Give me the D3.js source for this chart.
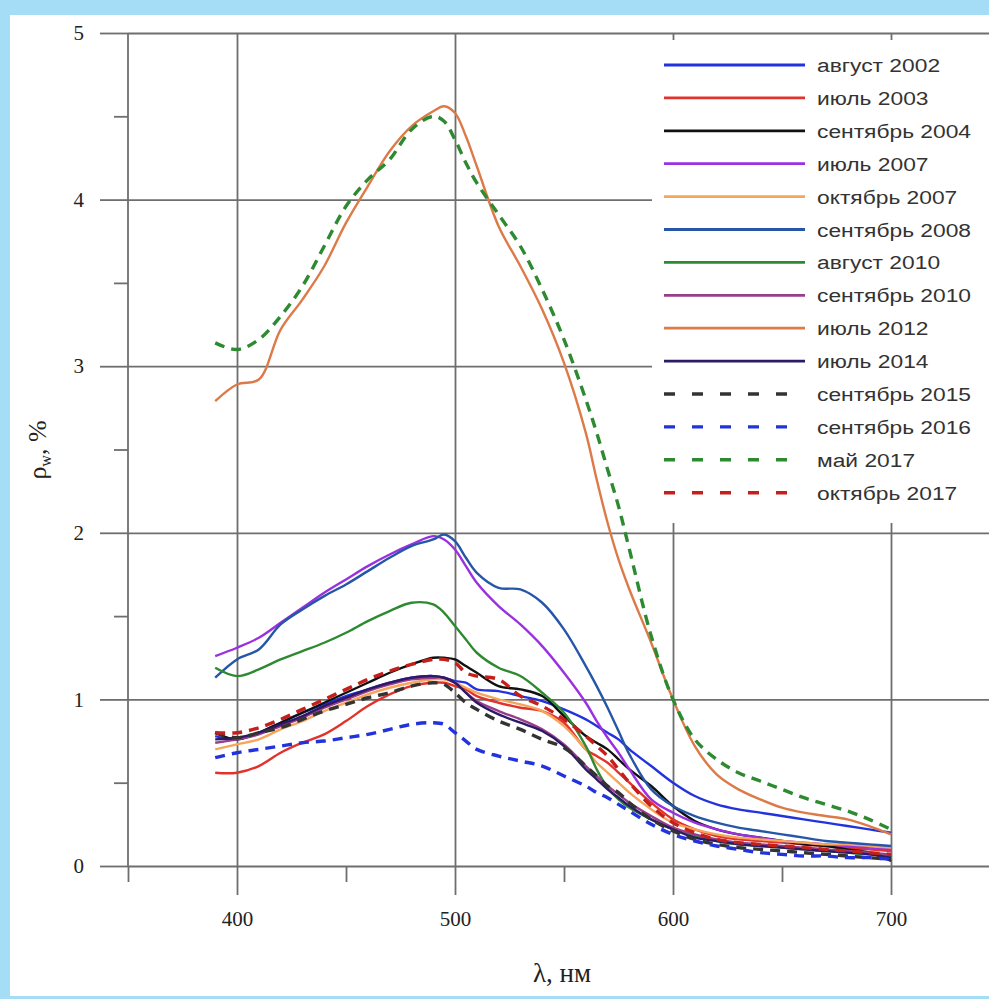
<!DOCTYPE html>
<html>
<head>
<meta charset="utf-8">
<script src="https://cdn.jsdelivr.net/npm/d3@7"></script>
<style>
  body { margin: 0; background: #a5dcf6; }
  svg { display: block; }
</style>
</head>
<body>
<svg id="chart" width="989" height="999"></svg>
<script>
// wavelengths, nm
let wavelengths = [390, 400, 410, 420, 430, 440, 450, 460, 470, 480, 490, 495, 500, 505, 510,
  520, 530, 540, 550, 560, 565, 570, 575, 580, 590, 600, 610, 620, 630, 640, 650, 660, 670, 680, 690, 700];

// rho_w, %
let aug2002 = [0.78, 0.76, 0.80, 0.86, 0.92, 0.97, 1.02, 1.06, 1.10, 1.13, 1.14, 1.13, 1.11, 1.10, 1.06,
  1.05, 1.02, 0.99, 0.94, 0.88, 0.84, 0.80, 0.76, 0.70, 0.60, 0.50, 0.42, 0.37, 0.34, 0.32, 0.30, 0.28, 0.26, 0.24, 0.22, 0.20];
let jul2003 = [0.56, 0.56, 0.60, 0.68, 0.74, 0.79, 0.87, 0.96, 1.03, 1.08, 1.10, 1.10, 1.08, 1.06, 1.02,
  0.98, 0.95, 0.93, 0.86, 0.70, 0.66, 0.62, 0.56, 0.50, 0.38, 0.28, 0.22, 0.18, 0.16, 0.15, 0.14, 0.13, 0.12, 0.11, 0.10, 0.09];
let sep2004 = [0.80, 0.76, 0.80, 0.86, 0.92, 0.98, 1.04, 1.10, 1.16, 1.21, 1.25, 1.25, 1.24, 1.20, 1.16,
  1.08, 1.06, 1.02, 0.90, 0.78, 0.74, 0.70, 0.64, 0.58, 0.48, 0.36, 0.27, 0.22, 0.19, 0.17, 0.15, 0.13, 0.12, 0.10, 0.08, 0.03];
let jul2007 = [1.26, 1.31, 1.37, 1.46, 1.55, 1.64, 1.72, 1.80, 1.87, 1.93, 1.98, 1.96, 1.90, 1.80, 1.70,
  1.56, 1.45, 1.32, 1.16, 0.98, 0.87, 0.77, 0.68, 0.58, 0.40, 0.32, 0.26, 0.22, 0.19, 0.17, 0.15, 0.14, 0.13, 0.12, 0.11, 0.10];
let oct2007 = [0.70, 0.73, 0.76, 0.82, 0.87, 0.93, 0.98, 1.03, 1.07, 1.10, 1.12, 1.12, 1.10, 1.07, 1.04,
  1.00, 0.97, 0.93, 0.84, 0.70, 0.62, 0.56, 0.50, 0.44, 0.34, 0.26, 0.22, 0.19, 0.17, 0.16, 0.15, 0.14, 0.13, 0.13, 0.12, 0.11];
let sep2008 = [1.13, 1.24, 1.30, 1.45, 1.54, 1.62, 1.69, 1.77, 1.85, 1.92, 1.96, 1.99, 1.95, 1.85, 1.76,
  1.67, 1.66, 1.58, 1.42, 1.20, 1.08, 0.95, 0.81, 0.67, 0.46, 0.36, 0.30, 0.26, 0.23, 0.21, 0.19, 0.17, 0.15, 0.14, 0.13, 0.12];
let aug2010 = [1.19, 1.14, 1.18, 1.24, 1.29, 1.34, 1.40, 1.47, 1.53, 1.58, 1.57, 1.52, 1.44, 1.36, 1.28,
  1.19, 1.14, 1.04, 0.92, 0.72, 0.58, 0.47, 0.40, 0.35, 0.28, 0.22, 0.18, 0.15, 0.13, 0.12, 0.11, 0.10, 0.09, 0.08, 0.07, 0.06];
let sep2010 = [0.74, 0.76, 0.79, 0.84, 0.89, 0.95, 1.00, 1.05, 1.09, 1.12, 1.13, 1.13, 1.10, 1.04, 0.99,
  0.93, 0.88, 0.82, 0.73, 0.60, 0.54, 0.48, 0.43, 0.38, 0.30, 0.23, 0.19, 0.16, 0.14, 0.13, 0.12, 0.11, 0.10, 0.09, 0.08, 0.07];
let jul2012 = [2.79, 2.89, 2.92, 3.22, 3.40, 3.60, 3.86, 4.08, 4.29, 4.44, 4.53, 4.56, 4.52, 4.38, 4.20,
  3.84, 3.60, 3.34, 3.02, 2.60, 2.32, 2.06, 1.84, 1.66, 1.34, 1.00, 0.72, 0.55, 0.46, 0.40, 0.35, 0.32, 0.30, 0.28, 0.24, 0.19];
let jul2014 = [0.76, 0.77, 0.80, 0.85, 0.90, 0.96, 1.01, 1.06, 1.10, 1.13, 1.14, 1.13, 1.10, 1.04, 0.98,
  0.91, 0.86, 0.81, 0.72, 0.58, 0.52, 0.46, 0.41, 0.36, 0.28, 0.22, 0.17, 0.15, 0.13, 0.12, 0.11, 0.10, 0.09, 0.08, 0.07, 0.05];
let sep2015 = [0.80, 0.77, 0.80, 0.83, 0.88, 0.93, 0.97, 1.01, 1.04, 1.08, 1.10, 1.09, 1.04, 0.98, 0.94,
  0.87, 0.82, 0.76, 0.71, 0.60, 0.54, 0.48, 0.44, 0.38, 0.28, 0.21, 0.16, 0.13, 0.11, 0.10, 0.09, 0.08, 0.07, 0.06, 0.05, 0.04];
let sep2016 = [0.65, 0.68, 0.70, 0.72, 0.74, 0.75, 0.77, 0.79, 0.82, 0.85, 0.86, 0.85, 0.80, 0.75, 0.70,
  0.66, 0.63, 0.60, 0.54, 0.48, 0.44, 0.41, 0.37, 0.33, 0.25, 0.19, 0.15, 0.12, 0.10, 0.08, 0.07, 0.06, 0.06, 0.05, 0.05, 0.04];
let may2017 = [3.14, 3.10, 3.16, 3.30, 3.48, 3.72, 3.96, 4.12, 4.24, 4.42, 4.50, 4.47, 4.36, 4.22, 4.10,
  3.91, 3.72, 3.46, 3.16, 2.80, 2.60, 2.38, 2.16, 1.90, 1.38, 1.00, 0.76, 0.64, 0.56, 0.51, 0.46, 0.41, 0.37, 0.33, 0.28, 0.22];
let oct2017 = [0.80, 0.80, 0.83, 0.88, 0.94, 1.00, 1.06, 1.12, 1.17, 1.21, 1.24, 1.24, 1.22, 1.16, 1.14,
  1.12, 1.02, 0.96, 0.88, 0.78, 0.72, 0.66, 0.58, 0.50, 0.36, 0.26, 0.20, 0.16, 0.14, 0.13, 0.12, 0.11, 0.10, 0.09, 0.08, 0.07];

let seriesNames = ['август 2002', 'июль 2003', 'сентябрь 2004', 'июль 2007', 'октябрь 2007',
  'сентябрь 2008', 'август 2010', 'сентябрь 2010', 'июль 2012', 'июль 2014',
  'сентябрь 2015', 'сентябрь 2016', 'май 2017', 'октябрь 2017'];
let seriesValues = [aug2002, jul2003, sep2004, jul2007, oct2007, sep2008, aug2010, sep2010,
  jul2012, jul2014, sep2015, sep2016, may2017, oct2017];

let seriesColors = ['#2233dd', '#e2322c', '#111111', '#9a30e0', '#f6a55c', '#2556a8', '#2e8a30',
  '#9a3c8c', '#dc7a48', '#2c1a66', '#333333', '#2233dd', '#2e8a30', '#c41f1a'];
let seriesDashed = [false, false, false, false, false, false, false, false, false, false,
  true, true, true, true];

let xTicks = [400, 500, 600, 700];
let xMinorTicks = [350, 450, 550, 650];
let yTicks = [0, 1, 2, 3, 4, 5];
let yMinorTicks = [0.5, 1.5, 2.5, 3.5, 4.5];

let svg = d3.select('#chart');

let x = d3.scaleLinear().domain([350, 750]).range([128, 1000]);
let y = d3.scaleLinear().domain([0, 5]).range([866, 33]);

// white panel
svg.append('rect')
  .attr('x', 10).attr('y', 15)
  .attr('width', 990).attr('height', 981)
  .attr('fill', '#ffffff');

let gridColor = '#6e6e6e';

// horizontal grid + major y ticks
svg.append('g')
  .attr('transform', 'translate(128,0)')
  .call(d3.axisLeft(y).tickValues(yTicks).tickSize(-(1000 - 128)).tickFormat(''))
  .call(g => g.select('.domain').remove())
  .call(g => g.selectAll('line').attr('stroke', gridColor).attr('stroke-width', 1.8));

let yAxis = svg.append('g')
  .attr('transform', 'translate(128,0)')
  .call(d3.axisLeft(y).tickValues(yTicks).tickSize(28).tickPadding(16).tickFormat(d3.format('d')));
yAxis.select('.domain').remove();
yAxis.selectAll('line').attr('stroke', gridColor).attr('stroke-width', 1.8);
yAxis.selectAll('text')
  .attr('font-family', '"Liberation Serif", "DejaVu Serif", serif')
  .attr('font-size', 21)
  .attr('fill', '#222');

let yMinor = svg.append('g')
  .attr('transform', 'translate(128,0)')
  .call(d3.axisLeft(y).tickValues(yMinorTicks).tickSize(14).tickFormat(''));
yMinor.select('.domain').remove();
yMinor.selectAll('line').attr('stroke', gridColor).attr('stroke-width', 1.8);

// vertical grid
svg.append('g')
  .attr('transform', 'translate(0,866)')
  .call(d3.axisBottom(x).tickValues(xTicks).tickSize(-(866 - 33)).tickFormat(''))
  .call(g => g.select('.domain').remove())
  .call(g => g.selectAll('line').attr('stroke', gridColor).attr('stroke-width', 1.8));

let xAxis = svg.append('g')
  .attr('transform', 'translate(0,866)')
  .call(d3.axisBottom(x).tickValues(xTicks).tickSize(29).tickPadding(16).tickSizeOuter(0));
xAxis.select('.domain').remove();
xAxis.selectAll('line').attr('stroke', gridColor).attr('stroke-width', 1.8);
xAxis.selectAll('text')
  .attr('font-family', '"Liberation Serif", "DejaVu Serif", serif')
  .attr('font-size', 21)
  .attr('fill', '#222');

let xMinor = svg.append('g')
  .attr('transform', 'translate(0,866)')
  .call(d3.axisBottom(x).tickValues(xMinorTicks).tickSize(16).tickFormat(''));
xMinor.select('.domain').remove();
xMinor.selectAll('line').attr('stroke', gridColor).attr('stroke-width', 1.8);

// y axis line
svg.append('line')
  .attr('x1', x(350)).attr('x2', x(350))
  .attr('y1', y(5)).attr('y2', y(0))
  .attr('stroke', gridColor).attr('stroke-width', 1.8);

// curves
let line = d3.line()
  .x((d, i) => x(wavelengths[i]))
  .y(d => y(d))
  .curve(d3.curveCatmullRom.alpha(0.5));

svg.append('g')
  .selectAll('path')
  .data(seriesValues)
  .enter()
  .append('path')
  .attr('d', line)
  .attr('fill', 'none')
  .attr('stroke', (d, i) => seriesColors[i])
  .attr('stroke-width', (d, i) => seriesDashed[i] ? 3.4 : 2.4)
  .attr('stroke-dasharray', (d, i) => seriesDashed[i] ? '10,7' : null)
  .attr('stroke-linejoin', 'round');

// legend
let legend = svg.append('g');
legend.append('rect')
  .attr('x', 652).attr('y', 40)
  .attr('width', 348).attr('height', 483)
  .attr('fill', '#ffffff');

let rows = legend.selectAll('g.row')
  .data(seriesNames)
  .enter()
  .append('g')
  .attr('class', 'row')
  .attr('transform', (d, i) => 'translate(0,' + (65 + i * 32.9) + ')');

rows.append('line')
  .attr('x1', 664).attr('x2', (d, i) => seriesDashed[i] ? 790 : 805)
  .attr('y1', 0).attr('y2', 0)
  .attr('stroke', (d, i) => seriesColors[i])
  .attr('stroke-width', (d, i) => seriesDashed[i] ? 3.4 : 2.8)
  .attr('stroke-dasharray', (d, i) => seriesDashed[i] ? '11,17' : null);

rows.append('text')
  .attr('transform', 'translate(817,7) scale(1.2,1)')
  .attr('font-family', '"Liberation Sans", Arial, sans-serif')
  .attr('font-size', 19)
  .attr('fill', '#333')
  .text(d => d);

// axis titles
let yTitle = svg.append('text')
  .attr('transform', 'translate(46,450) rotate(-90)')
  .attr('text-anchor', 'middle')
  .attr('font-family', '"Liberation Serif", "DejaVu Serif", serif')
  .attr('font-size', 26)
  .attr('fill', '#222');
yTitle.append('tspan').text('ρ');
yTitle.append('tspan').attr('font-size', 16).attr('dy', 5).text('w');
yTitle.append('tspan').attr('dy', -5).text(', %');

svg.append('text')
  .attr('x', 562)
  .attr('y', 982)
  .attr('text-anchor', 'middle')
  .attr('font-family', '"Liberation Serif", "DejaVu Serif", serif')
  .attr('font-size', 27)
  .attr('fill', '#222')
  .text('λ, нм');
</script>
</body>
</html>
